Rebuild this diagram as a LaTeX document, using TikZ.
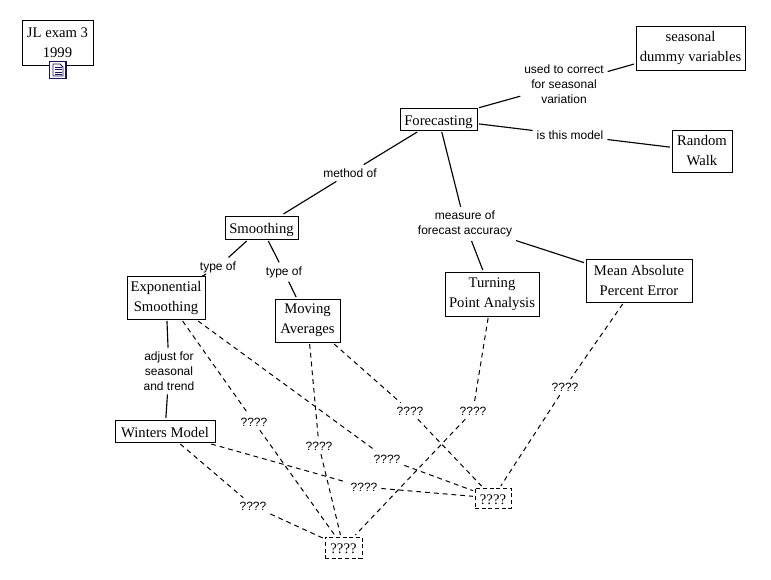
\documentclass[tikz,border=0pt]{standalone}
\usepackage{fontspec}
\setmainfont{Liberation Serif}
\newfontfamily\lblfont{Liberation Sans}
\tikzset{
  px/.style={x=0.75pt,y=-0.75pt},
  concept/.style={draw=black,line width=0.75pt,fill=white,align=center,inner sep=0pt,outer sep=1.5pt,font=\fontsize{11pt}{15pt}\selectfont},
  oneline/.style={text height=9pt,text depth=0pt},
  hidden/.style={draw=black,dash pattern=on 3pt off 2pt,line width=0.6pt,fill=white,inner sep=0pt,outer sep=1.5pt,font=\fontsize{11pt}{15pt}\selectfont},
  lbl/.style={align=center,inner sep=2pt,outer sep=1pt,font=\lblfont\fontsize{9pt}{11.25pt}\selectfont},
  link/.style={draw=black,line width=0.85pt},
  qlink/.style={draw=black,line width=0.75pt,dash pattern=on 3.6pt off 3pt},
}
\begin{document}
\begin{tikzpicture}[px]
\useasboundingbox (0,0) rectangle (771,579);
\node[concept,minimum width=53.25pt,minimum height=33.75pt] (jl) at (57.5,42.5) {JL exam 3\\1999};
\node[concept,oneline,minimum width=57.75pt,minimum height=16.5pt] (fc) at (438.5,119) {Forecasting};
\node[concept,minimum width=81.75pt,minimum height=33pt] (sd) at (690.5,48) {seasonal\\dummy variables};
\node[concept,minimum width=45pt,minimum height=31.5pt] (rw) at (702,151) {Random\\Walk};
\node[concept,oneline,minimum width=54.75pt,minimum height=17.25pt] (sm) at (261.5,227.5) {Smoothing};
\node[concept,minimum width=58.5pt,minimum height=32.25pt] (es) at (166,297.5) {Exponential\\Smoothing};
\node[concept,minimum width=48.75pt,minimum height=32.25pt] (ma) at (307.5,320.5) {Moving\\Averages};
\node[concept,minimum width=70.5pt,minimum height=33pt] (tp) at (492,294) {Turning\\Point Analysis};
\node[concept,minimum width=79.5pt,minimum height=32.25pt] (mp) at (639,280.5) {Mean Absolute\\Percent Error};
\node[concept,oneline,minimum width=75pt,minimum height=16.5pt] (wm) at (165,431) {Winters Model};
\node[hidden,oneline,minimum width=27.75pt,minimum height=15.75pt] (q1) at (343.5,547.5) {????};
\node[hidden,oneline,minimum width=27pt,minimum height=15pt] (q2) at (493,498) {????};
% linking phrases
\node[lbl] (l1) at (564,84) {used to correct\\for seasonal\\variation};
\node[lbl] (l2) at (570,135) {is this model};
\node[lbl] (l3) at (350,173) {method of};
\node[lbl] (l4) at (465,224) {measure of\\forecast accuracy};
\node[lbl] (l5) at (218,267) {type of};
\node[lbl] (l6) at (284,272) {type of};
\node[lbl] (l7) at (169,371) {adjust for\\seasonal\\and trend};
\node[lbl] (q3) at (254,422) {????};
\node[lbl] (q4) at (387,459) {????};
\node[lbl] (q5) at (319,446) {????};
\node[lbl] (q6) at (410,411) {????};
\node[lbl] (q7) at (473,411) {????};
\node[lbl] (q8) at (565,387) {????};
\node[lbl] (q9) at (364,487) {????};
\node[lbl] (q10) at (253,506) {????};
% solid links
\draw[link] (fc) -- (l1);
\draw[link] (l1) -- (sd);
\draw[link] (fc) -- (l2);
\draw[link] (l2) -- (rw);
\draw[link] (fc) -- (l3);
\draw[link] (l3) -- (sm);
\draw[link] (fc) -- (l4);
\draw[link] (l4) -- (tp);
\draw[link] (l4) -- (mp);
\draw[link] (sm) -- (l5);
\draw[link] (l5) -- (es);
\draw[link] (sm) -- (l6);
\draw[link] (l6) -- (ma);
\draw[link] (es) -- (l7);
\draw[link] (l7) -- (wm);
% dashed links
\draw[qlink] (es) -- (q3);
\draw[qlink] (q3) -- (q1);
\draw[qlink] (es) -- (q4);
\draw[qlink] (q4) -- (q2);
\draw[qlink] (ma) -- (q5);
\draw[qlink] (q5) -- (q1);
\draw[qlink] (ma) -- (q6);
\draw[qlink] (q6) -- (q2);
\draw[qlink] (tp) -- (q7);
\draw[qlink] (q7) -- (q1);
\draw[qlink] (mp) -- (q8);
\draw[qlink] (q8) -- (q2);
\draw[qlink] (wm) -- (q9);
\draw[qlink] (q9) -- (q2);
\draw[qlink] (wm) -- (q10);
\draw[qlink] (q10) -- (q1);
% document icon
\definecolor{iconblue}{RGB}{20,20,90}
\fill[white] (49,61) rectangle (66,79);
\draw[draw=iconblue,line width=0.9pt] (49.5,61.5) rectangle (66,78.5);
\draw[draw=iconblue,fill=white,line width=0.6pt] (53,64) -- (60,64) -- (63,67) -- (63,76) -- (53,76) -- cycle;
\foreach \yy in {67,69.5,72,74.5}{\draw[iconblue,line width=0.5pt] (54.5,\yy) -- (61.5,\yy);}
\end{tikzpicture}
\end{document}
